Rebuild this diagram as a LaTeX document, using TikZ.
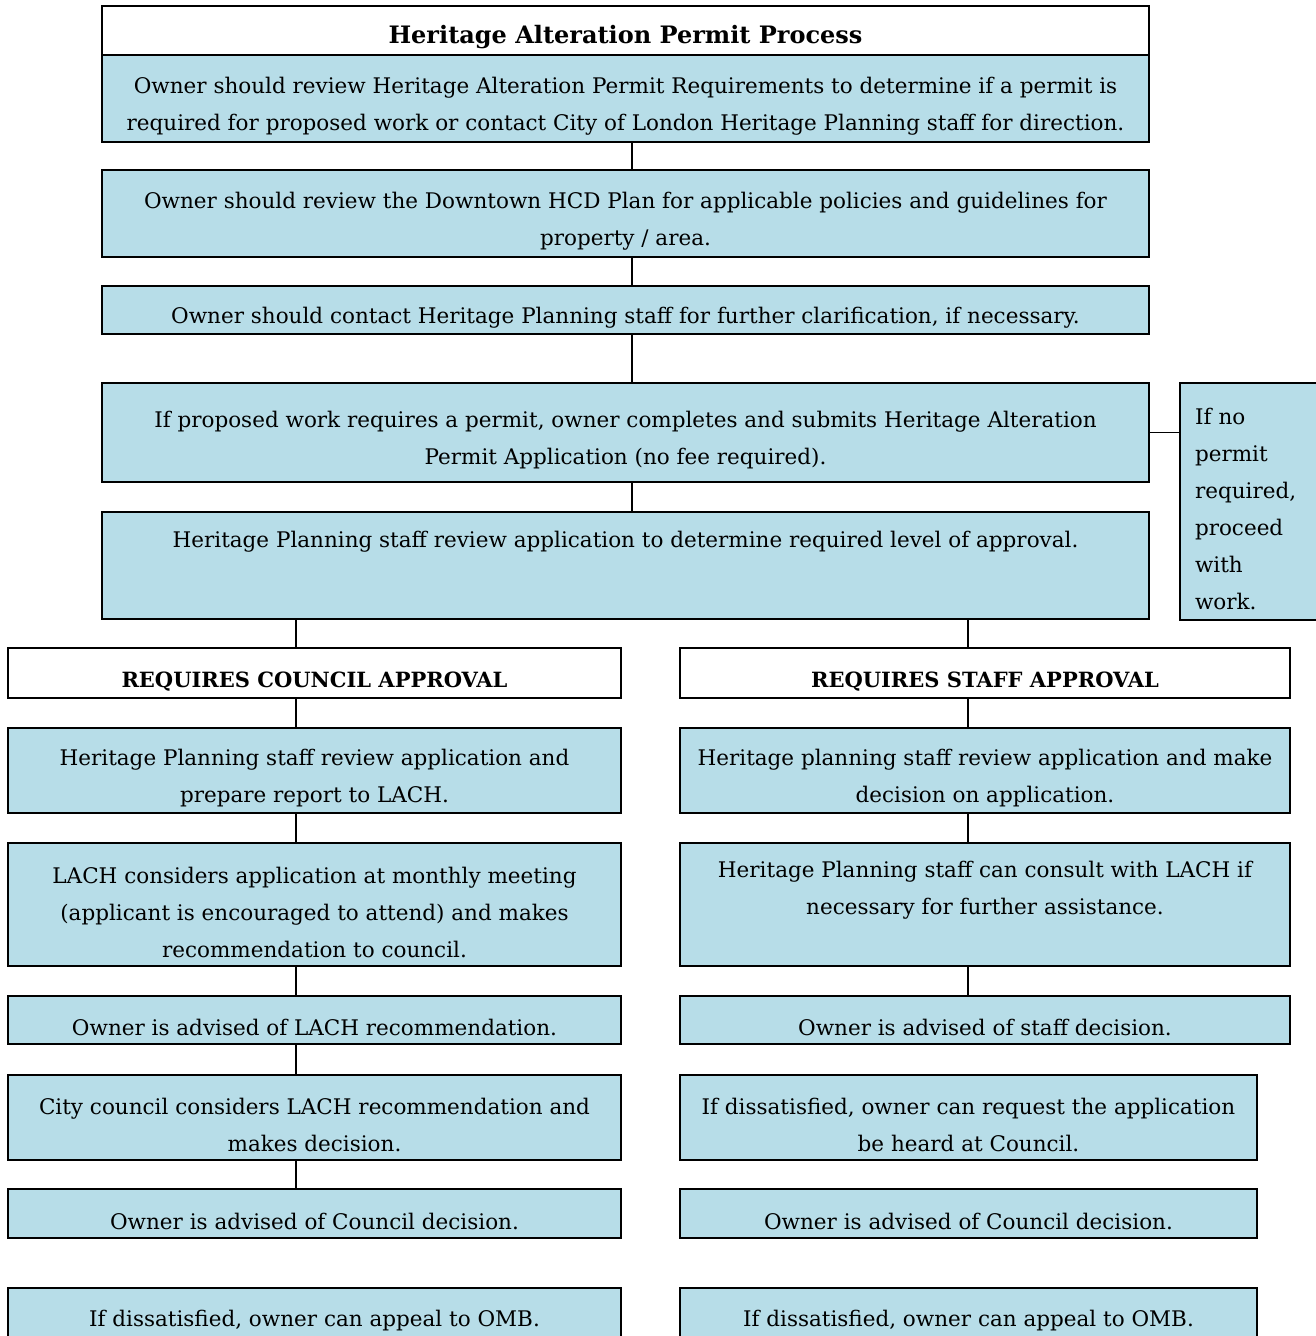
\documentclass[tikz,border=0pt]{standalone}
\usepackage{fontspec}
\setmainfont{DejaVu Serif}
\usepackage{tikz}
\usetikzlibrary{positioning,calc}
\definecolor{boxblue}{HTML}{B7DDE8}
\newcommand{\bodyfont}{\fontsize{21.5}{37}\selectfont}
\newcommand{\topgap}{\rule{0pt}{32pt}}
\tikzset{
  stepbox/.style={draw=black,line width=2.5pt,fill=boxblue,align=center,inner sep=0pt,font=\bodyfont},
  headbox/.style={stepbox,fill=white,font=\fontsize{21}{37}\selectfont\bfseries},
  link/.style={draw=black,line width=1.5pt},
}

\begin{document}
\begin{tikzpicture}[x=1pt,y=-1pt]
\useasboundingbox (0,0) rectangle (1315,1336);
\coordinate (mainx) at (632,0);
\coordinate (leftx) at (296,0);
\coordinate (rightx) at (968,0);
% main column
\node[headbox,minimum width=1047pt,minimum height=49pt,font=\fontsize{24}{37}\selectfont\bfseries] (title) at (625.5,30.5) {\topgap Heritage Alteration Permit Process};
\node[stepbox,minimum width=1047pt,minimum height=87pt] (b1) at (625.5,98.5)
  {\topgap Owner should review Heritage Alteration Permit Requirements to determine if a permit is\\
   required for proposed work or contact City of London Heritage Planning staff for direction.};
\node[stepbox,minimum width=1047pt,minimum height=87pt] (b2) at (625.5,213.5)
  {\topgap Owner should review the Downtown HCD Plan for applicable policies and guidelines for\\
   property / area.};
\node[stepbox,minimum width=1047pt,minimum height=48pt] (b3) at (625.5,310)
  {\topgap Owner should contact Heritage Planning staff for further clarification, if necessary.};
\node[stepbox,minimum width=1047pt,minimum height=99pt] (b4) at (625.5,432.5)
  {\topgap If proposed work requires a permit, owner completes and submits Heritage Alteration\\
   Permit Application (no fee required).};
\node[stepbox,minimum width=1047pt,minimum height=107pt] (b5) at (625.5,565.5)
  {\topgap Heritage Planning staff review application to determine required level of approval.\\[20pt]\strut};
\node[stepbox,minimum height=237pt,text width=125pt,inner xsep=15pt,align=left] (side) at (1257.5,501.5)
  {\topgap If no\\permit\\required,\\proceed\\with\\work.};
% council column
\node[headbox,minimum width=613pt,minimum height=50pt] (hl) at (314.5,673) {\topgap REQUIRES COUNCIL APPROVAL};
\node[stepbox,minimum width=613pt,minimum height=85pt] (l1) at (314.5,770.5)
  {\topgap Heritage Planning staff review application and\\prepare report to LACH.};
\node[stepbox,minimum width=613pt,minimum height=123pt] (l2) at (314.5,904.5)
  {\topgap LACH considers application at monthly meeting\\(applicant is encouraged to attend) and makes\\recommendation to council.};
\node[stepbox,minimum width=613pt,minimum height=48pt] (l3) at (314.5,1020)
  {\topgap Owner is advised of LACH recommendation.};
\node[stepbox,minimum width=613pt,minimum height=85pt] (l4) at (314.5,1117.5)
  {\topgap City council considers LACH recommendation and\\makes decision.};
\node[stepbox,minimum width=613pt,minimum height=49pt] (l5) at (314.5,1213.5)
  {\topgap Owner is advised of Council decision.};
\node[stepbox,minimum width=613pt,minimum height=49pt] (l6) at (314.5,1312.5)
  {\topgap If dissatisfied, owner can appeal to OMB.};
% staff column
\node[headbox,minimum width=610pt,minimum height=50pt] (hr) at (985,673) {\topgap REQUIRES STAFF APPROVAL};
\node[stepbox,minimum width=610pt,minimum height=85pt] (r1) at (985,770.5)
  {\topgap Heritage planning staff review application and make\\decision on application.};
\node[stepbox,minimum width=610pt,minimum height=123pt] (r2) at (985,904.5)
  {\topgap Heritage Planning staff can consult with LACH if\\necessary for further assistance.\\ \strut};
\node[stepbox,minimum width=610pt,minimum height=48pt] (r3) at (985,1020)
  {\topgap Owner is advised of staff decision.};
\node[stepbox,minimum width=577pt,minimum height=85pt] (r4) at (968.5,1117.5)
  {\topgap If dissatisfied, owner can request the application\\be heard at Council.};
\node[stepbox,minimum width=577pt,minimum height=49pt] (r5) at (968.5,1213.5)
  {\topgap Owner is advised of Council decision.};
\node[stepbox,minimum width=577pt,minimum height=49pt] (r6) at (968.5,1312.5)
  {\topgap If dissatisfied, owner can appeal to OMB.};
% connectors
\foreach \a/\b in {b1/b2,b2/b3,b3/b4,b4/b5}
  \draw[link] (\a.south -| mainx) -- (\b.north -| mainx);
\foreach \a/\b in {b5/hl,hl/l1,l1/l2,l2/l3,l3/l4,l4/l5}
  \draw[link] (\a.south -| leftx) -- (\b.north -| leftx);
\foreach \a/\b in {b5/hr,hr/r1,r1/r2,r2/r3}
  \draw[link] (\a.south -| rightx) -- (\b.north -| rightx);
\draw[link] (b4.east) -- (b4.east -| side.west);
\end{tikzpicture}
\end{document}
